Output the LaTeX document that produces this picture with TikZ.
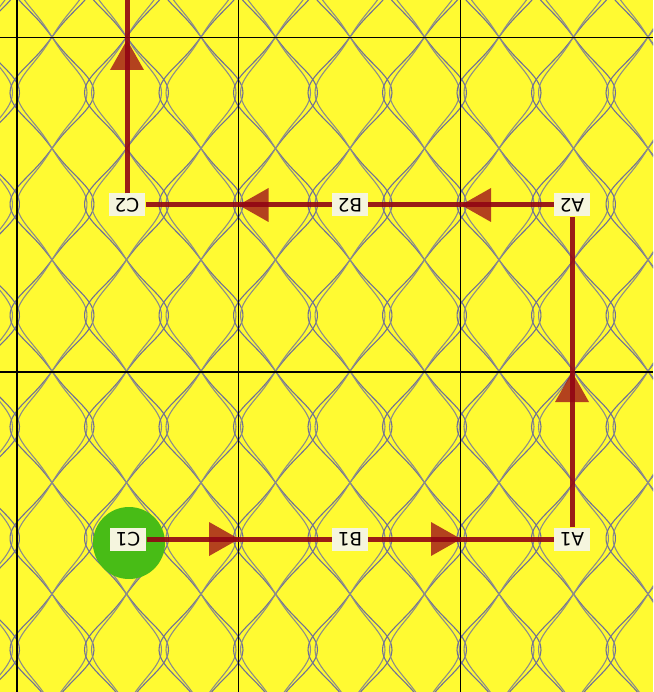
\documentclass[tikz,border=0pt]{standalone}
\usepackage{fontspec}
\setmainfont{DejaVu Sans}
\usetikzlibrary{arrows.meta,decorations.markings}
\definecolor{bgyellow}{RGB}{255,250,50}
\definecolor{netA}{RGB}{112,112,150}
\definecolor{netB}{RGB}{140,140,138}
\definecolor{pathred}{RGB}{145,5,20}
\definecolor{tipred}{RGB}{160,20,25}
\definecolor{labelbg}{RGB}{245,245,222}
\definecolor{startgreen}{RGB}{72,188,22}
\begin{document}
\begin{tikzpicture}[x=1pt,y=-1pt,
  cellnode/.style={fill=labelbg, rotate=180, font=\fontsize{18.5pt}{20pt}\selectfont,
    inner xsep=6pt, inner ysep=4.75pt, text height=13.5pt, text depth=0pt},
  route/.style={draw=pathred, draw opacity=0.9, line width=5pt, preaction={decorate},
    decoration={markings, mark=at position #1 with {\fill[tipred, fill opacity=0.8] (0,0) -- (-30,-17) -- (-30,17) -- cycle;}}},
  gridline/.style={black, line width=1.2pt},
  net/.style={line width=1.1pt}
]
\useasboundingbox (0,0) rectangle (653,692);
\clip (0,0) rectangle (653,692);
\fill[bgyellow] (0,0) rectangle (653,692);
% lattice pattern
\foreach \k in {-1,...,8} {
  \pgfmathsetmacro\xk{52+74.5*\k}
  \foreach \a/\c in {42/netA, -42/netA, 35/netB, -35/netB} {
    \draw[\c, net] plot[domain=-80:760, samples=200, smooth, variable=\t]
      ({\xk+\a*(sin((\t-37)*1.6158)-0.1*sin((\t-37)*4.8474))/1.1}, \t);
  }
}
% grid
\foreach \gx in {17,238.5,460.5} \draw[gridline] (\gx,0) -- (\gx,692);
\foreach \gy in {37.5,372} \draw[gridline] (0,\gy) -- (653,\gy);
% start marker
\fill[startgreen] (129,543) circle (36);
% nodes
\node[cellnode] (C2) at (127,205) {C2};
\node[cellnode] (B2) at (350,205) {B2};
\node[cellnode] (A2) at (572,205) {A2};
\node[cellnode] (C1) at (128,539) {C1};
\node[cellnode] (B1) at (350,539) {B1};
\node[cellnode] (A1) at (572,539) {A1};
\coordinate (top) at (127,0);
% route
\draw[route=0.5] (C1) -- (B1);
\draw[route=0.5] (B1) -- (A1);
\draw[route=0.5] (A1) -- (A2);
\draw[route=0.5] (A2) -- (B2);
\draw[route=0.5] (B2) -- (C2);
\draw[route=-40pt] (C2) -- (top);
\end{tikzpicture}
\end{document}
